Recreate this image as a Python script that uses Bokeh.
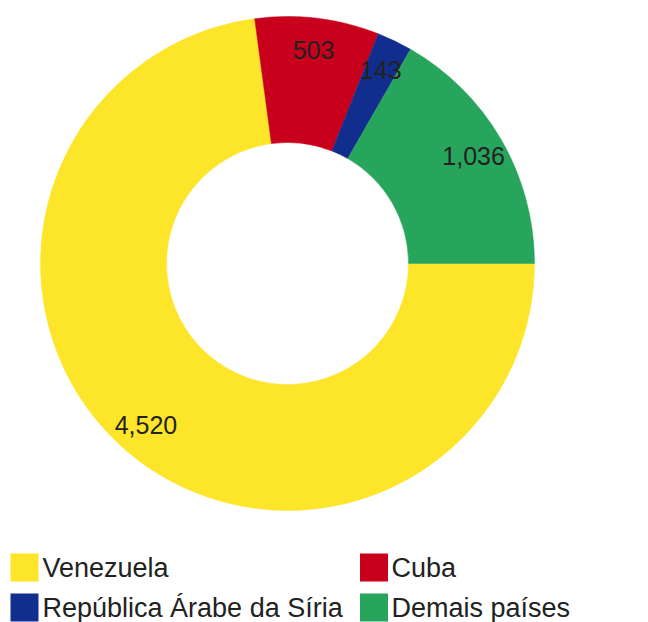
import math
from bokeh.plotting import figure
from bokeh.models import ColumnDataSource, Range1d
from bokeh.core.properties import value
from bokeh.embed import file_html
from bokeh.resources import INLINE

# ---- data ----
categories = ["Venezuela", "Cuba", "República Árabe da Síria", "Demais países"]
values = [4520, 503, 143, 1036]
labels = ["4,520", "503", "143", "1,036"]
colors = ["#FDE52A", "#C9001C", "#112E8E", "#28A55C"]

W, H = 648, 622
CX, CY = 287, H - 263
R_OUT, R_IN, R_LAB = 247, 121, 215

total = float(sum(values))
starts, ends, lx, ly = [], [], [], []
cum = 0.0
for v in values:
    a0 = cum / total * 2 * math.pi
    cum += v
    a1 = cum / total * 2 * math.pi
    # clockwise from 3 o'clock
    starts.append(-a1)
    ends.append(-a0)
    mid = -(a0 + a1) / 2
    lx.append(CX + R_LAB * math.cos(mid))
    ly.append(CY + R_LAB * math.sin(mid))

src = ColumnDataSource(dict(cat=categories, val=values, lab=labels, col=colors,
                            s=starts, e=ends, lx=lx, ly=ly))

p = figure(width=W, height=H, output_backend="svg", toolbar_location=None,
           x_range=Range1d(0, W), y_range=Range1d(0, H), min_border=0,
           tools="")
p.axis.visible = False
p.grid.visible = False
p.outline_line_color = None
p.background_fill_color = "white"
p.border_fill_color = "white"

p.annular_wedge(x=CX, y=CY, inner_radius=R_IN, outer_radius=R_OUT,
                start_angle="s", end_angle="e", fill_color="col",
                line_color="col", line_width=0.5, source=src)

p.text(x="lx", y="ly", text="lab", source=src, text_align="center",
       text_baseline="middle", text_font=value("Liberation Sans"),
       text_font_size="25px", text_color="#222222")

# ---- legend (2 columns) ----
leg_sq_x = [24, 373.5, 24, 373.5]
leg_tx_x = [42, 391, 42, 391]
leg_y = [H - 567, H - 567, H - 607, H - 607]
lsrc = ColumnDataSource(dict(sx=leg_sq_x, tx=leg_tx_x, y=leg_y,
                             cat=categories, col=colors))
p.rect(x="sx", y="y", width=28, height=28, fill_color="col", line_color=None,
       source=lsrc)
p.text(x="tx", y="y", text="cat", source=lsrc, text_align="left",
       text_baseline="middle", text_font=value("Liberation Sans"),
       text_font_size="27px", text_color="#222222")

open("out.html", "w").write(file_html(p, INLINE))
